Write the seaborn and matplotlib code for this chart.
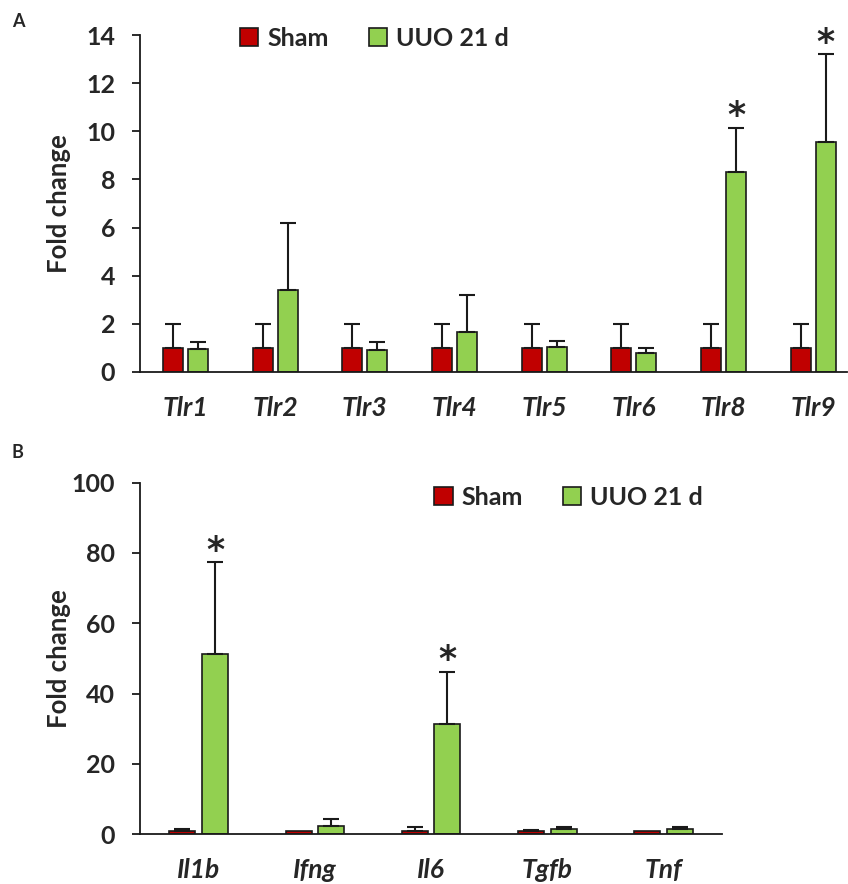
import matplotlib
matplotlib.use("Agg")
import matplotlib.pyplot as plt
import pandas as pd
import seaborn as sns

# panel A - Toll-like receptors
tlr_genes = ["Tlr1", "Tlr2", "Tlr3", "Tlr4", "Tlr5", "Tlr6", "Tlr8", "Tlr9"]
tlr_sham = [1.0, 1.0, 1.0, 1.0, 1.0, 1.0, 1.0, 1.0]
tlr_sham_err = [1.0, 1.0, 1.0, 1.0, 1.0, 1.0, 1.0, 1.0]
tlr_uuo = [0.95, 3.41, 0.91, 1.65, 1.03, 0.78, 8.30, 9.54]
tlr_uuo_err = [0.31, 2.77, 0.32, 1.54, 0.26, 0.23, 1.85, 3.66]
tlr_sig = ["", "", "", "", "", "", "*", "*"]

# panel B - cytokines
cyt_genes = ["Il1b", "Ifng", "Il6", "Tgfb", "Tnf"]
cyt_sham = [1.0, 1.0, 1.0, 1.0, 1.0]
cyt_sham_err = [0.6, 0.0, 1.2, 0.25, 0.0]
cyt_uuo = [51.3, 2.5, 31.4, 1.6, 1.6]
cyt_uuo_err = [26.0, 1.9, 14.9, 0.6, 0.6]
cyt_sig = ["*", "", "*", "", ""]

groups = ["Sham", "UUO 21 d"]
colors = {"Sham": "#C00000", "UUO 21 d": "#92D050"}

sns.set_style("white")
plt.rcParams["font.family"] = ["Lato", "DejaVu Sans"]
plt.rcParams["font.weight"] = "bold"


def make_frame(genes, sham, sham_err, uuo, uuo_err, sig):
    rows = []
    for i, g in enumerate(genes):
        rows.append({"gene": g, "group": "Sham", "value": sham[i], "err": sham_err[i], "sig": ""})
        rows.append({"gene": g, "group": "UUO 21 d", "value": uuo[i], "err": uuo_err[i], "sig": sig[i]})
    return pd.DataFrame(rows)


def draw_panel(ax, df, genes, ymax, ystep, xlim, leg_x, leg_y, label_x):
    sns.barplot(data=df, x="gene", y="value", hue="group", order=genes, hue_order=groups,
                palette=colors, errorbar=None, width=0.56, gap=0.2,
                edgecolor="#1a1a1a", linewidth=1.2, saturation=1, ax=ax)

    # one-sided error bars + significance marks, positioned from the drawn bars
    for container, grp in zip(ax.containers, groups):
        sub = df[df["group"] == grp].set_index("gene").loc[genes]
        for bar, (_, row) in zip(container, sub.iterrows()):
            xc = bar.get_x() + bar.get_width() / 2
            h = bar.get_height()
            if row["err"] > 0:
                ax.errorbar(xc, h, yerr=[[0], [row["err"]]], fmt="none", ecolor="#1a1a1a",
                            elinewidth=1.5, capsize=6, capthick=1.5, zorder=3)
            if row["sig"]:
                ax.annotate(row["sig"], (xc, h + row["err"]), xytext=(0, -4),
                            textcoords="offset points", ha="center", va="bottom",
                            fontsize=25, fontweight="bold", family="DejaVu Sans")

    ax.set_ylim(0, ymax)
    ax.set_yticks(range(0, ymax + 1, ystep))
    ax.set_xlim(*xlim)
    ax.set_xlabel("")
    ax.set_ylabel("Fold change", fontsize=18.5, fontweight="bold")
    ax.yaxis.set_label_coords(label_x, 0.5)
    sns.despine(ax=ax)
    for s in ["left", "bottom"]:
        ax.spines[s].set_linewidth(1.3)
        ax.spines[s].set_color("#1a1a1a")
    ax.tick_params(axis="y", length=6, width=1.3, pad=12, labelsize=18, color="#1a1a1a", left=True)
    ax.tick_params(axis="x", length=0, pad=17, labelsize=19)
    for lab in ax.get_xticklabels():
        lab.set_fontstyle("italic")
        lab.set_fontweight("bold")

    ax.legend(title=None, frameon=False, ncol=2, loc="center left",
              bbox_to_anchor=(leg_x, leg_y), borderpad=0, borderaxespad=0,
              handlelength=0.75, handleheight=0.75, handletextpad=0.35,
              columnspacing=1.6, prop={"weight": "bold", "size": 18})
    for h in ax.get_legend().legend_handles:
        h.set_edgecolor("#1a1a1a")
        h.set_linewidth(1.2)


fig = plt.figure(figsize=(8.48, 8.84), dpi=100)
ax_a = fig.add_axes([0.1651, 0.5792, 0.834, 0.3812])
ax_b = fig.add_axes([0.1651, 0.0562, 0.686, 0.3978])

df_a = make_frame(tlr_genes, tlr_sham, tlr_sham_err, tlr_uuo, tlr_uuo_err, tlr_sig)
df_b = make_frame(cyt_genes, cyt_sham, cyt_sham_err, cyt_uuo, cyt_uuo_err, cyt_sig)

draw_panel(ax_a, df_a, tlr_genes, 14, 2, (-0.507, 7.38), 0.141, 0.991, -0.098)
draw_panel(ax_b, df_b, cyt_genes, 100, 20, (-0.505, 4.5), 0.505, 0.958, -0.118)

fig.text(0.014, 0.976, "A", fontsize=13, fontweight="bold", va="center")
fig.text(0.014, 0.488, "B", fontsize=13, fontweight="bold", va="center")

fig.savefig("out.png", dpi=100)
